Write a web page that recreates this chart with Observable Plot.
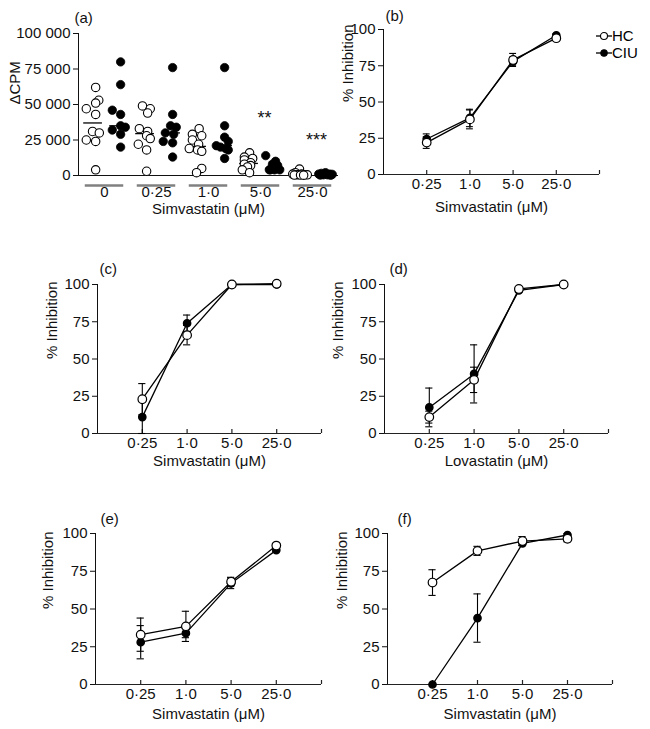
<!DOCTYPE html>
<html><head><meta charset="utf-8">
<script src="https://cdn.jsdelivr.net/npm/d3@7"></script>
<script src="https://cdn.jsdelivr.net/npm/@observablehq/plot@0.6"></script>
<style>
body{margin:0;background:#fff}
#fig{position:relative;width:650px;height:729px;font-family:"Liberation Sans",Arial,sans-serif;color:#000}
#fig svg{position:absolute}
.legend{position:absolute;font-size:15px;line-height:17px}
.legend div{display:flex;align-items:center;height:17px}
</style>
</head><body><div id="fig"></div>
<script>
// ---------- data ----------
const seriesNames = ["HC", "CIU"];
const groupLabels = ["0", "0·25", "1·0", "5·0", "25·0"];
const hcCPM = [
  [62000, 53000, 51000, 47000, 43000, 31000, 30000, 25000, 24000, 4000],
  [49000, 47000, 44000, 33000, 31000, 28000, 26000, 22000, 18000, 3000],
  [33000, 29000, 28000, 25000, 22000, 19000, 18000, 17000, 5000, 2000],
  [16000, 13000, 12000, 11000, 9000, 8000, 7000, 6000, 4000, 2000],
  [4500, 2000, 1000, 1000, 500, 500, 500, 300, 300, 200]
];
// horizontal spread of each dot within its column (group units)
const hcJitter = [
  [0.08, 0.14, 0.08, -0.10, 0.08, 0.02, 0.15, -0.10, 0.08, 0.08],
  [-0.02, 0.13, 0.08, -0.08, 0.08, 0.06, 0.13, -0.10, 0.06, 0.06],
  [0.07, -0.06, 0.12, -0.06, 0.06, -0.12, 0.04, 0.12, 0.12, 0.02],
  [0.04, -0.06, 0.10, -0.06, 0.06, -0.06, 0.06, 0, -0.10, 0.04],
  [0, -0.08, 0.04, -0.13, -0.04, 0.10, 0.15, -0.10, 0.02, 0.08]
];
const ciuCPM = [
  [80000, 64000, 46000, 43000, 35000, 34000, 32000, 29000, 20000],
  [76000, 43000, 35000, 34000, 30000, 29000, 24000, 23000, 13000],
  [76000, 35000, 27000, 24000, 21000, 20000, 19000, 18000, 12000],
  [14000, 10000, 8000, 7000, 5000, 4000, 4000, 4000, 4000],
  [2000, 1500, 1000, 1000, 800, 500, 500, 300, 200]
];
const ciuJitter = [
  [0.06, 0.06, -0.10, 0.06, 0.06, 0.15, -0.10, 0.06, 0.06],
  [0.06, 0.06, 0.02, 0.13, -0.08, 0.08, -0.12, 0.06, 0.06],
  [0.06, 0.06, 0.06, 0.13, -0.10, -0.02, 0.08, 0.13, 0.06],
  [-0.15, 0.04, -0.02, 0.08, 0, -0.06, 0.02, 0.12, -0.08],
  [0, -0.08, 0.08, -0.13, 0.13, -0.04, 0.04, -0.10, 0.10]
];
const sigText = ["", "", "", "**", "***"];
const sigCPM = [null, null, null, 40000, 25000];
const cpmTicks = [0, 25000, 50000, 75000, 100000];

const doseLabels = ["0·25", "1·0", "5·0", "25·0"];
const pctTicks = [0, 25, 50, 75, 100];
// panel b
const hcB = [22, 38, 79, 94],      hcBErr = [4, 6.5, 4.5, 1.5];
const ciuB = [24.5, 39, 78, 96],   ciuBErr = [3.5, 6, 3, 1];
// panel c
const hcC = [23, 66, 100, 100.5],  hcCErr = [10.5, 6.5, 0.5, 0.3];
const ciuC = [11, 74, 100, 100],   ciuCErr = [11, 5.5, 0.3, 0.3];
// panel d
const hcD = [11, 36, 97, 100],     hcDErr = [4, 8.5, 1, 0.3];
const ciuD = [17.5, 40, 96, 100],  ciuDErr = [13, 19.5, 1, 0.3];
// panel e
const hcE = [33, 38.5, 68, 92],    hcEErr = [11, 10, 3, 1];
const ciuE = [28, 34, 67, 89],     ciuEErr = [11, 3, 3.5, 1];
// panel f
const hcF = [67.5, 88.5, 95, 96.5], hcFErr = [8.5, 3, 3, 2];
const ciuF = [0, 44, 93.5, 99],     ciuFErr = [0, 16, 1.5, 1];

// ---------- helpers ----------
const fig = document.getElementById("fig");
const FONT = '"Liberation Sans", Arial, sans-serif';
const FS = 15;
const baseStyle = {fontFamily: FONT, fontSize: FS + "px", background: "transparent", overflow: "visible", color: "#111"};
function place(el, left, top) {
  el.style.position = "absolute";
  el.style.left = left + "px";
  el.style.top = top + "px";
  el.style.maxWidth = "none";
  fig.appendChild(el);
}
function box(b) {
  return {
    width: b.w, height: b.h,
    marginLeft: b.pl - b.l, marginRight: b.l + b.w - b.pr,
    marginTop: b.pt - b.t, marginBottom: b.t + b.h - b.pb
  };
}
const txt = {fontSize: FS, fontFamily: FONT, fill: "#111"};

// ---------- panel (a) ----------
const A = {l: 0, t: 0, w: 345, h: 230, pl: 78, pr: 338, pt: 33, pb: 175};
const cpmFmt = d => d3.format(",")(d).replace(/,/g, " ");
const side = {HC: -0.25, CIU: 0.25};
const pts = [];
[[hcCPM, hcJitter, "HC"], [ciuCPM, ciuJitter, "CIU"]].forEach(([arr, jit, s]) =>
  arr.forEach((vals, g) => vals.forEach((v, k) => pts.push({g, s, v, x: g + side[s] + jit[g][k]}))));
const medians = [];
[[hcCPM, "HC"], [ciuCPM, "CIU"]].forEach(([arr, s]) =>
  arr.forEach((vals, g) => medians.push({s, c: g + side[s] + 0.03, m: d3.median(vals)})));
const sigRows = sigText.map((t, i) => ({g: i, t, v: sigCPM[i]})).filter(d => d.t);

const plotA = Plot.plot({
  ...box(A), style: baseStyle,
  x: {domain: [-0.5, groupLabels.length - 0.5], axis: null},
  y: {domain: [0, 100000], ticks: cpmTicks, tickFormat: cpmFmt, tickSize: 5, tickPadding: 3, line: true, label: null},
  marks: [
    Plot.ruleY([0], {stroke: "#111", strokeWidth: 1.2}),
    Plot.ruleY(groupLabels, {y: () => 0, x1: (d, i) => i - 0.37, x2: (d, i) => i + 0.37, dy: 10, stroke: "#808080", strokeWidth: 2.5}),
    Plot.text(groupLabels, {x: (d, i) => i, text: d => d, frameAnchor: "bottom", dy: 21, ...txt}),
    Plot.text(["Simvastatin (μM)"], {frameAnchor: "bottom", dy: 38, ...txt}),
    Plot.text(["ΔCPM"], {frameAnchor: "left", rotate: -90, dx: -63, ...txt}),
    Plot.text(["(a)"], {frameAnchor: "top-left", textAnchor: "start", dx: -4, dy: -21, ...txt}),
    Plot.text(sigRows, {x: "g", y: "v", text: "t", dx: 4, ...txt, fontSize: 18}),
    Plot.ruleY(medians, {y: "m", x1: d => d.c - 0.18, x2: d => d.c + 0.18, stroke: "black", strokeWidth: 1.3}),
    Plot.dot(pts, {filter: d => d.s === "CIU", x: "x", y: "v", r: 4.2, fill: "black", stroke: "black", strokeWidth: 0.8}),
    Plot.dot(pts, {filter: d => d.s === "HC", x: "x", y: "v", r: 4.2, fill: "white", stroke: "black", strokeWidth: 1.1})
  ]
});
place(plotA, A.l, A.t);

// ---------- line panels ----------
function linePanel(cfg) {
  const b = cfg.box;
  const rows = [];
  [[cfg.hc, cfg.hcErr, "HC"], [cfg.ciu, cfg.ciuErr, "CIU"]].forEach(([vals, errs, s]) =>
    vals.forEach((v, i) => rows.push({x: i + 1, y: v, lo: v - errs[i], hi: v + errs[i], s})));
  const plotH = b.pb - b.pt;
  const svg = Plot.plot({
    ...box(b), style: baseStyle,
    x: {domain: [0, doseLabels.length + 1], axis: null},
    y: {domain: [0, 100], ticks: pctTicks, tickSize: 5, tickPadding: 3, line: true, label: null},
    marks: [
      Plot.ruleY([0], {stroke: "#222", strokeWidth: 1.2}),
      Plot.tickX(d3.range(1, doseLabels.length + 2), {x: d => d, insetTop: plotH - 4, stroke: "#222", strokeWidth: 1.2}),
      Plot.text(doseLabels, {x: (d, i) => i + 1, text: d => d, frameAnchor: "bottom", dy: 14, ...txt}),
      Plot.text([cfg.xTitle], {frameAnchor: "bottom", dy: cfg.titleDy, ...txt}),
      Plot.text(["% Inhibition"], {frameAnchor: "left", rotate: -90, dx: cfg.yLabelDx, ...txt}),
      Plot.text([cfg.label], {frameAnchor: "top-left", textAnchor: "start", dx: cfg.labelDx, dy: cfg.labelDy, ...txt}),
      Plot.ruleX(rows, {x: "x", y1: "lo", y2: "hi", stroke: "black", strokeWidth: 1.1}),
      Plot.ruleY(rows, {y: "hi", x1: d => d.x - 0.08, x2: d => d.x + 0.08, stroke: "black", strokeWidth: 1.1}),
      Plot.ruleY(rows, {y: "lo", x1: d => d.x - 0.08, x2: d => d.x + 0.08, stroke: "black", strokeWidth: 1.1}),
      Plot.line(rows, {x: "x", y: "y", z: "s", stroke: "black", strokeWidth: 1.3}),
      Plot.dot(rows, {filter: d => d.s === "CIU", x: "x", y: "y", r: 3.6, fill: "black", stroke: "black"}),
      Plot.dot(rows, {filter: d => d.s === "HC", x: "x", y: "y", r: 4.3, fill: "white", stroke: "black", strokeWidth: 1.2})
    ]
  });
  place(svg, b.l, b.t);
}

linePanel({label: "(b)", xTitle: "Simvastatin (μM)", hc: hcB, hcErr: hcBErr, ciu: ciuB, ciuErr: ciuBErr,
  box: {l: 330, t: 0, w: 320, h: 230, pl: 383, pr: 599, pt: 29, pb: 174}, yLabelDx: -35, labelDx: 2, labelDy: -19, titleDy: 37});
linePanel({label: "(c)", xTitle: "Simvastatin (μM)", hc: hcC, hcErr: hcCErr, ciu: ciuC, ciuErr: ciuCErr,
  box: {l: 0, t: 240, w: 330, h: 240, pl: 97, pr: 321, pt: 284, pb: 433}, yLabelDx: -45, labelDx: 2, labelDy: -21, titleDy: 32});
linePanel({label: "(d)", xTitle: "Lovastatin (μM)", hc: hcD, hcErr: hcDErr, ciu: ciuD, ciuErr: ciuDErr,
  box: {l: 330, t: 240, w: 320, h: 240, pl: 384, pr: 608, pt: 284, pb: 433}, yLabelDx: -46, labelDx: 5, labelDy: -21, titleDy: 32});
linePanel({label: "(e)", xTitle: "Simvastatin (μM)", hc: hcE, hcErr: hcEErr, ciu: ciuE, ciuErr: ciuEErr,
  box: {l: 0, t: 490, w: 330, h: 239, pl: 95, pr: 321, pt: 533, pb: 684}, yLabelDx: -47, labelDx: 5, labelDy: -20, titleDy: 34});
linePanel({label: "(f)", xTitle: "Simvastatin (μM)", hc: hcF, hcErr: hcFErr, ciu: ciuF, ciuErr: ciuFErr,
  box: {l: 330, t: 490, w: 320, h: 239, pl: 387, pr: 612, pt: 533, pb: 684}, yLabelDx: -45, labelDx: 10, labelDy: -20, titleDy: 34});

// ---------- legend ----------
const legend = document.createElement("div");
legend.className = "legend";
legend.style.left = "596px";
legend.style.top = "27px";
seriesNames.forEach((name, i) => {
  const row = document.createElement("div");
  const sw = d3.create("svg").attr("width", 16).attr("height", 12).style("position", "static").style("overflow", "visible");
  sw.append("line").attr("x1", 0).attr("x2", 16).attr("y1", 6).attr("y2", 6).attr("stroke", "black").attr("stroke-width", 1.3);
  sw.append("circle").attr("cx", 8).attr("cy", 6).attr("r", i === 0 ? 3.5 : 3.2)
    .attr("fill", i === 0 ? "white" : "black").attr("stroke", "black").attr("stroke-width", 1.1);
  row.appendChild(sw.node());
  const t = document.createElement("span");
  t.textContent = name;
  row.appendChild(t);
  legend.appendChild(row);
});
fig.appendChild(legend);
</script>
</body></html>
